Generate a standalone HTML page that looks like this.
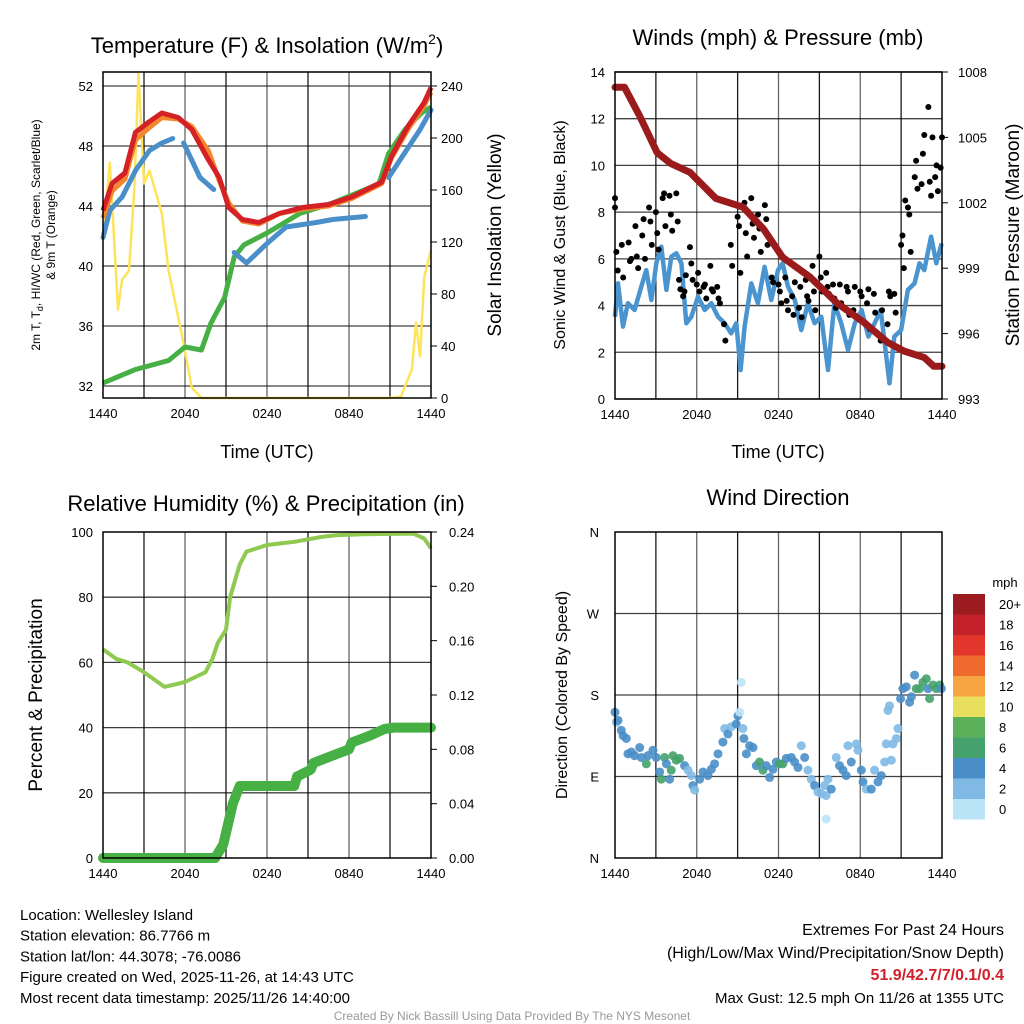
<!DOCTYPE html>
<html><head><meta charset="utf-8"><style>
body{margin:0;background:#fff;}
svg{display:block;font-family:"Liberation Sans",sans-serif;}
</style></head><body>
<svg id="chart" width="1024" height="1024" viewBox="0 0 1024 1024"></svg>
<script>
// ---------- data ----------
const redT=[0,0.66,1.6,2.37,3.35,4.3,5.5,6.5,7.7,8.5,9.2,10.2,11.4,12.9,14.6,16.5,18.2,20.4,21.1,22.3,23.5,24];
const redV=[43.7,45.5,46.2,48.9,49.6,50.2,49.9,49.1,47.1,45.9,43.9,43.1,42.9,43.5,43.9,44.1,44.6,45.6,47.3,49.3,50.9,51.9];
const orgT=[0,0.66,1.6,2.37,3.35,4.3,5.5,6.5,7.7,8.5,9.2,10.2,11.4,12.9,14.6,16.5,18.2,20.4,21.1,22.3,23.5,24];
const orgV=[43.2,45.0,45.8,48.4,49.2,49.9,49.8,49.3,47.7,45.7,44.2,43.0,42.8,43.5,43.8,44.0,44.5,45.5,47.2,49.1,50.7,51.6];
const grnT=[0,2.37,4.8,6.0,7.2,7.9,8.9,9.6,10.3,12.0,14.4,16.8,19.2,20.2,20.9,22.1,23.3,24];
const grnV=[32.2,33.1,33.7,34.6,34.4,36.2,37.9,40.6,41.4,42.2,43.5,44.2,45.1,45.5,47.5,49.1,50.2,50.6];
const bluT=[0,0.5,1.4,2.4,3.4,4.3,5.1,null,5.9,7.1,8.1,null,9.6,10.5,12.0,13.4,15.6,16.8,19.2,null,20.9,21.9,23.2,24];
const bluV=[41.9,43.7,44.6,46.4,47.7,48.2,48.5,null,48.2,45.9,45.1,null,40.9,40.2,41.5,42.6,42.9,43.1,43.3,null,45.9,47.3,49.1,50.4];
const solT=[0,0.5,1.1,1.4,1.9,2.3,2.6,3.0,3.4,4.3,4.8,5.8,6.5,7.2,20.9,21.8,22.6,22.9,23.2,23.5,24];
const solV=[121,181,68,91,98,162,250,165,175,142,98,47,8,0,0,1,22,58,32,93,114];
const tempTicks=[32,36,40,44,48,52];
const solTicks=[0,40,80,120,160,200,240];
const timeLabels=["1440","2040","0240","0840","1440"];

const presT=[0,0.7,1.8,3.1,4.1,5.5,7.4,9.4,10.9,12.3,14.3,16.3,18.3,20.0,21.2,22.7,23.4,24];
const presV=[1007.3,1007.3,1006.0,1004.3,1003.8,1003.4,1002.2,1001.8,1000.8,999.5,998.6,997.4,996.5,995.6,995.2,994.9,994.5,994.5];
const windT=[0,0.22,0.59,0.95,1.44,1.93,2.3,2.67,3.03,3.4,3.77,4.13,4.5,4.87,5.23,5.6,6.09,6.58,7.07,7.56,8.05,8.53,8.9,9.22,9.51,10.0,10.49,10.98,11.47,11.96,12.3,12.7,13.2,13.67,14.16,14.65,15.14,15.63,16.1,16.6,17.1,17.6,18.1,18.6,19.05,19.5,20.15,20.5,21.0,21.5,21.98,22.35,22.7,23.2,23.58,23.97];
const windV=[3.52,4.95,3.10,4.10,3.81,4.81,5.52,4.24,5.81,6.52,4.67,6.09,6.24,5.81,3.24,3.52,4.38,3.81,4.10,3.52,3.24,2.81,3.24,1.24,3.10,4.95,4.10,5.66,4.24,5.52,5.81,4.81,4.24,2.95,4.10,3.24,3.52,1.24,4.10,3.24,2.10,3.24,3.81,2.67,3.24,3.81,0.67,2.67,2.95,4.67,4.95,5.81,5.52,6.95,5.81,6.66];
const gustT=[0,0,0.1,0.2,0.5,0.6,1,1.1,1.2,1.5,1.6,1.7,2,2.1,2.2,2.5,2.6,2.7,3,3.1,3.2,3.5,3.6,3.7,4,4.1,4.2,4.5,4.6,4.7,4.8,5,5.1,5.2,5.5,5.6,5.7,6,6.1,6.2,6.5,6.6,6.7,7,7.1,7.2,7.5,7.6,7.7,8,8.1,8.5,8.6,9,9.1,9.2,9.5,9.6,9.7,10,10.1,10.2,10.5,10.6,10.7,11,11.1,11.2,11.5,11.6,12,12.1,12.2,12.5,12.6,12.7,13,13.1,13.2,13.5,13.6,13.7,14,14.1,14.2,14.5,14.6,14.7,15,15.1,15.2,15.5,15.6,15.7,16,16.1,16.2,16.5,16.6,17,17.1,17.2,17.5,17.6,18,18.1,18.2,18.5,18.6,18.7,19,19.1,19.5,19.6,20,20.1,20.2,20.5,20.6,21,21.1,21.2,21.3,21.5,21.6,21.7,22,22.1,22.2,22.5,22.6,22.7,23,23.1,23.2,23.3,23.5,23.6,23.7,24,23.9];
const gustV=[8.6,8.2,6.3,5.5,6.6,5.2,6.7,5.9,6.0,7.4,6.1,5.6,7.0,7.7,6.0,8.2,7.6,6.6,8.0,7.1,6.4,8.6,8.8,7.4,8.7,7.9,7.2,8.8,7.6,5.1,4.7,4.4,4.6,5.3,6.5,5.8,5.1,4.9,5.4,4.6,4.8,4.9,4.3,5.7,4.7,4.6,4.8,4.3,4.1,3.2,2.5,6.6,5.7,7.8,7.4,5.4,8.4,7.1,6.1,8.6,7.5,6.9,7.9,7.3,6.3,8.3,7.7,6.6,5.2,5.0,4.9,4.6,4.1,5.2,4.2,3.8,4.4,3.6,5.0,3.9,4.8,3.5,5.1,4.4,4.2,5.7,4.6,3.8,6.1,5.2,4.6,5.4,4.8,4.5,4.9,4.3,3.9,4.9,4.1,4.8,4.6,3.6,3.8,4.8,4.6,4.4,3.3,4.1,4.7,3.0,4.5,3.7,2.5,3.8,3.2,4.6,4.4,4.5,3.7,6.6,7.0,5.6,8.5,8.2,7.9,6.3,9.5,10.2,9.0,9.2,10.5,11.3,12.5,9.3,8.7,11.2,9.5,10.0,8.9,11.2,9.9];
const windTicks=[0,2,4,6,8,10,12,14];
const presTicks=[993,996,999,1002,1005,1008];

const rhT=[0,1,1.8,3,4,4.5,6,7.5,8,8.4,9,9.3,10,10.5,12,13,14,16,17,19,22.7,23.5,24];
const rhV=[64,61,60,57,54,52.5,54,57,61,66,70,80,90,94,96,96.5,97,98.5,99,99.3,99.5,98,95];
const prT=[0,8.2,8.8,9.5,10,14,14.2,15.2,15.4,18,18.2,19.5,20.6,21.3,24];
const prV=[0,0,0.01,0.04,0.053,0.053,0.06,0.065,0.07,0.08,0.085,0.09,0.095,0.096,0.096];
const pctTicks=[0,20,40,60,80,100];
const inTicks=["0.00","0.04","0.08","0.12","0.16","0.20","0.24"];

const dirT=[0,0.1,0.22,0.46,0.59,0.83,0.95,1.2,1.44,1.81,1.93,2.3,2.42,2.79,3.03,3.28,3.4,3.64,3.77,4.01,4.13,4.26,4.5,4.74,5.11,5.36,5.6,5.72,5.85,6.21,6.46,6.82,7.07,7.31,7.56,7.92,8.05,8.29,8.53,8.9,9.02,9.15,9.27,9.39,9.46,9.64,9.88,10.13,10.37,10.61,10.86,11.1,11.35,11.59,11.84,12.08,12.32,12.57,12.94,13.18,13.43,13.67,13.92,14.16,14.41,14.65,14.89,15.14,15.38,15.5,15.63,15.87,16.24,16.48,16.73,16.97,17.1,17.34,17.71,17.83,18.08,18.2,18.45,18.81,19.05,19.3,19.54,19.79,19.91,20.03,20.15,20.28,20.4,20.65,20.77,20.96,21.13,21.38,21.62,21.75,21.99,22.11,22.35,22.6,22.85,22.97,23.09,23.34,23.58,23.83,23.95,15.5];
const dirV=[161,150,152,141,135,132,115,117,113,122,111,104,113,119,111,95,87,111,104,87,97,113,108,110,102,97,91,80,75,87,95,91,98,104,115,128,143,137,145,148,157,161,194,143,132,115,124,122,102,106,97,102,89,98,106,104,104,110,111,106,100,124,111,97,87,80,73,71,80,69,87,76,111,102,97,91,124,106,126,119,97,84,76,76,97,84,91,106,126,163,168,108,126,132,143,176,187,189,172,178,202,187,187,194,198,187,176,191,187,191,187,43];
const dirS=[4,2,4,4,4,4,4,4,4,4,4,6,4,4,4,4,6,6,4,4,6,6,6,6,4,2,2,4,2,4,4,4,4,4,4,4,2,4,2,4,4,0,0,2,4,4,4,4,4,6,6,4,4,4,4,6,6,4,4,4,4,2,4,2,2,4,2,2,2,2,2,4,2,4,4,4,2,4,2,2,4,4,2,4,2,4,4,1,2,1,1,2,2,2,2,4,4,4,4,4,4,6,6,6,6,4,6,6,6,6,4,0];
const spdLabels=["20+","18","16","14","12","10","8","6","4","2","0"];
const spdColors=["#9c1b1f","#c2212a","#e2362c","#ef6a2d","#f6a542","#e8df5c","#5db05a","#45a26d","#4a8ec8","#80bae4","#bce4f7"];

// ---------- helpers ----------
const NS="http://www.w3.org/2000/svg";
const svg=document.getElementById('chart');
function mk(tag,attrs,parent){const e=document.createElementNS(NS,tag);for(const k in attrs)e.setAttribute(k,attrs[k]);(parent||svg).appendChild(e);return e;}
function txt(s,x,y,size,anchor,parent,extra){const e=mk('text',Object.assign({x:x,y:y,'font-size':size,'text-anchor':anchor||'middle',fill:'#000'},extra||{}),parent);e.textContent=s;return e;}
function linePath(ts,vs,fx,fy){let d='',pen=false;for(let i=0;i<ts.length;i++){if(ts[i]===null||vs[i]===null){pen=false;continue;}d+=(pen?'L':'M')+fx(ts[i]).toFixed(1)+','+fy(vs[i]).toFixed(1);pen=true;}return d;}

function panel(name,x0,y0,w,h){
  const g=mk('g',{});
  
  
  const fx=t=>x0+t/24*w;
  for(let i=1;i<8;i++){const l=mk('line',{x1:fx(i*3),x2:fx(i*3),y1:y0,y2:y0+h,stroke:'#000','stroke-width':1.3,'stroke-opacity':i%2?0.9:0.6},g);
    }
  for(let i=0;i<5;i++){const t=txt(timeLabels[i],fx(i*6),y0+h+20,13,'middle',g);
    }
  return {g,fx};
}
function frame(g,x0,y0,w,h){const r=mk('rect',{x:x0,y:y0,width:w,height:h,fill:'none',stroke:'#000','stroke-width':1.5},g);
  }
function hgrid(g,x0,w,y){const l=mk('line',{x1:x0,x2:x0+w,y1:y,y2:y,stroke:'#000','stroke-width':1.3,'stroke-opacity':0.75},g);
  }

// ---------- Panel 1: Temperature ----------
(function(){
  const x0=103,y0=72,w=328,h=326;
  const p=panel('temperature-panel',x0,y0,w,h);const g=p.g,fx=p.fx;
  const yL=v=>386-(v-32)*15, yR=v=>398-v*1.3;
  tempTicks.forEach(v=>{hgrid(g,x0,w,yL(v));const t=txt(String(v),x0-10,yL(v)+5,13,'end',g);
    });
  solTicks.forEach(v=>{mk('line',{x1:x0+w,x2:x0+w+6,y1:yR(v),y2:yR(v),stroke:'#000'},g);const t=txt(String(v),x0+w+10,yR(v)+5,13,'start',g);
    });
  const s1=mk('path',{d:linePath(solT,solV,fx,yR),fill:'none',stroke:'#fde45a','stroke-width':2.5,'stroke-linejoin':'round'},g);
  
  const s2=mk('path',{d:linePath(grnT,grnV,fx,yL),fill:'none',stroke:'#46b045','stroke-width':5,'stroke-linejoin':'round'},g);
  
  const s3=mk('path',{d:linePath(bluT,bluV,fx,yL),fill:'none',stroke:'#4a8fca','stroke-width':5,'stroke-linejoin':'round','stroke-linecap':'round'},g);
  
  const s4=mk('path',{d:linePath(orgT,orgV,fx,yL),fill:'none',stroke:'#f5862d','stroke-width':5,'stroke-linejoin':'round'},g);
  
  const s5=mk('path',{d:linePath(redT,redV,fx,yL),fill:'none',stroke:'#d42126','stroke-width':5,'stroke-linejoin':'round'},g);
  
  frame(g,x0,y0,w,h);
  const t=txt('',267,53,22,'middle',g);t.innerHTML='Temperature (F) &amp; Insolation (W/m<tspan dy="-9" font-size="14">2</tspan><tspan dy="9">)</tspan>';
  
  const xl=txt('Time (UTC)',267,458,18,'middle',g);
  const yl=mk('text',{x:0,y:0,'font-size':12,'text-anchor':'middle',transform:'translate(40,235) rotate(-90)'},g);
  yl.innerHTML='2m T, T<tspan dy="3" font-size="9">d</tspan><tspan dy="-3">, HI/WC (Red, Green, Scarlet/Blue)</tspan>';
  
  const yl2=txt('& 9m T (Orange)',0,0,12,'middle',g,{transform:'translate(55,235) rotate(-90)'});
  
  const yr=txt('Solar Insolation (Yellow)',0,0,19,'middle',g,{transform:'translate(501,235) rotate(-90)'});
  
})();

// ---------- Panel 2: Winds ----------
(function(){
  const x0=615,y0=72,w=327,h=327;
  const p=panel('winds-panel',x0,y0,w,h);const g=p.g,fx=p.fx;
  const yL=v=>399-v*23.36, yR=v=>399-(v-993)*21.8;
  windTicks.forEach(v=>{hgrid(g,x0,w,yL(v));const t=txt(String(v),x0-10,yL(v)+5,13,'end',g);
    });
  presTicks.forEach(v=>{mk('line',{x1:x0+w,x2:x0+w+6,y1:yR(v),y2:yR(v),stroke:'#000'},g);const t=txt(String(v),x0+w+16,yR(v)+5,13,'start',g);
    });
  const s1=mk('path',{d:linePath(windT,windV,fx,yL),fill:'none',stroke:'#4a94d0','stroke-width':4.5,'stroke-linejoin':'round'},g);
  
  for(let i=0;i<gustT.length;i++){const c=mk('circle',{cx:fx(gustT[i]),cy:yL(gustV[i]),r:3,fill:'#000'},g);
    }
  const s2=mk('path',{d:linePath(presT,presV,fx,yR),fill:'none',stroke:'#9b1b1c','stroke-width':7,'stroke-linejoin':'round','stroke-linecap':'round'},g);
  
  frame(g,x0,y0,w,h);
  const t=txt('Winds (mph) & Pressure (mb)',778,45,22,'middle',g);
  const xl=txt('Time (UTC)',778,458,18,'middle',g);
  const yl=txt('Sonic Wind & Gust (Blue, Black)',0,0,16,'middle',g,{transform:'translate(565,235) rotate(-90)'});
  
  const yr=txt('Station Pressure (Maroon)',0,0,19,'middle',g,{transform:'translate(1019,235) rotate(-90)'});
  
})();

// ---------- Panel 3: RH & Precip ----------
(function(){
  const x0=103,y0=532,w=328,h=326;
  const p=panel('humidity-panel',x0,y0,w,h);const g=p.g,fx=p.fx;
  const yL=v=>858-v*3.26, yR=v=>858-v/0.24*326;
  pctTicks.forEach(v=>{if(v>0&&v<100)hgrid(g,x0,w,yL(v));const t=txt(String(v),x0-10,yL(v)+5,13,'end',g);
    });
  inTicks.forEach(s=>{const v=parseFloat(s);mk('line',{x1:x0+w,x2:x0+w+6,y1:yR(v),y2:yR(v),stroke:'#000'},g);const t=txt(s,x0+w+18,yR(v)+5,13,'start',g);
    });
  const s1=mk('path',{d:linePath(rhT,rhV,fx,yL),fill:'none',stroke:'#8fc950','stroke-width':4,'stroke-linejoin':'round'},g);
  
  const s2=mk('path',{d:linePath(prT,prV,fx,yR),fill:'none',stroke:'#46b045','stroke-width':10,'stroke-linejoin':'round','stroke-linecap':'round'},g);
  
  frame(g,x0,y0,w,h);
  const t=txt('Relative Humidity (%) & Precipitation (in)',266,511,22,'middle',g);
  const yl=txt('Percent & Precipitation',0,0,19,'middle',g,{transform:'translate(42,695) rotate(-90)'});
  
})();

// ---------- Panel 4: Wind direction ----------
(function(){
  const x0=615,y0=532,w=327,h=326;
  const p=panel('wind-direction-panel',x0,y0,w,h);const g=p.g,fx=p.fx;
  const yD=v=>858-v/360*326;
  const dl=['N','E','S','W','N'];
  dl.forEach((s,i)=>{const v=i*90;if(i>0&&i<4)hgrid(g,x0,w,yD(v));const t=txt(s,x0-16,yD(v)+5,13,'end',g);
    });
  for(let i=0;i<dirT.length;i++){const ci=10-Math.min(10,Math.round(dirS[i]/2));
    const c=mk('circle',{cx:fx(dirT[i]),cy:yD(dirV[i]),r:4.5,fill:spdColors[ci],'fill-opacity':0.9},g);
    }
  frame(g,x0,y0,w,h);
  const t=txt('Wind Direction',778,505,22,'middle',g);
  const yl=txt('Direction (Colored By Speed)',0,0,16,'middle',g,{transform:'translate(567,695) rotate(-90)'});
  
  const lg=mk('g',{},g);
  const lt=txt('mph',1005,587,13,'middle',lg);
  spdLabels.forEach((s,i)=>{const y=594+i*20.5;
    const r=mk('rect',{x:953,y:y,width:32,height:20.5,fill:spdColors[i]},lg);
    const tt=txt(s,999,y+15,13,'start',lg);});
})();

// ---------- footer text ----------
const info=["Location: Wellesley Island","Station elevation: 86.7766 m","Station lat/lon: 44.3078; -76.0086","Figure created on Wed, 2025-11-26, at 14:43 UTC","Most recent data timestamp: 2025/11/26 14:40:00"];
info.forEach((s,i)=>{const t=txt(s,20,920+i*20.7,15,'start');});
let e;
e=txt('Extremes For Past 24 Hours',1004,935,16,'end');
e=txt('(High/Low/Max Wind/Precipitation/Snow Depth)',1004,958,16,'end');
e=txt('51.9/42.7/7/0.1/0.4',1004,980,16,'end',null,{fill:'#d0202a','font-weight':'bold'});
e=txt('Max Gust: 12.5 mph On 11/26 at 1355 UTC',1004,1003,15,'end');
e=txt('Created By Nick Bassill Using Data Provided By The NYS Mesonet',512,1020,12,'middle',null,{fill:'#999'});
</script>
</body></html>
